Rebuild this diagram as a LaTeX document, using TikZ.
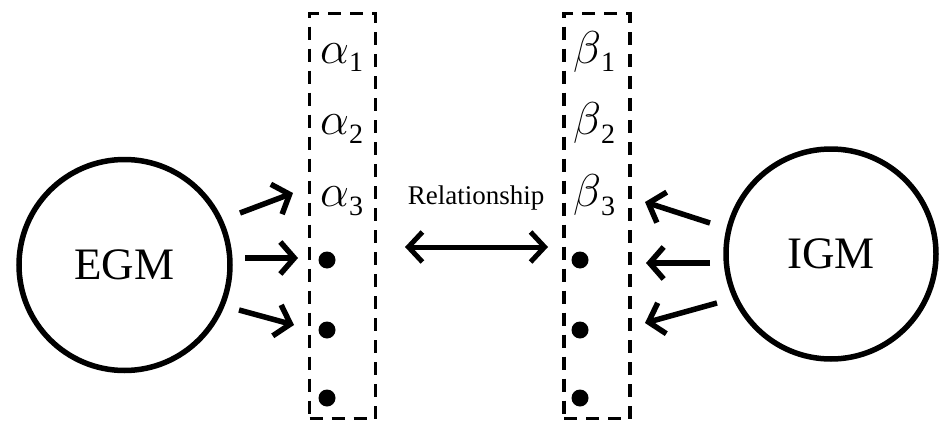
\documentclass[tikz,border=0pt]{standalone}
\usepackage{graphicx}
\usepackage{fontspec}
\setmainfont{Liberation Serif}
\usetikzlibrary{arrows.meta}
\newcommand{\lblsub}[1]{\raisebox{-9pt}{\upshape\fontsize{28}{28}\selectfont #1}}
\newcommand{\biggreek}[1]{\scalebox{1.85}{\fontsize{24}{24}\selectfont$#1$}}
\begin{document}
\begin{tikzpicture}[x=1pt,y=-1pt,
  model/.style={circle,draw,line width=5.5pt,inner sep=0pt,font=\fontsize{45}{45}\selectfont},
  dbox/.style={draw,line width=3.5pt,dash pattern=on 13pt off 9pt,inner sep=0pt},
  flow/.style={line width=5.5pt,-{Straight Barb[length=14pt,width=32pt]}},
  biflow/.style={line width=5pt,{Straight Barb[length=14pt,width=30pt]}-{Straight Barb[length=14pt,width=30pt]}},
  lbl/.style={anchor=base west,inner sep=0pt},
  dot/.style={circle,fill,inner sep=0pt,minimum size=17pt},
  reltext/.style={inner sep=0pt,font=\fontsize{27}{27}\selectfont}]
\fill[white] (0,0) rectangle (940,423);
\useasboundingbox (0,0) rectangle (940,423);

% models
\node[model,minimum size=211pt] (egm) at (124.5,265) {EGM};
\node[model,minimum size=210pt] (igm) at (831,254) {IGM};

% dashed boxes
\node[dbox,minimum width=66pt,minimum height=405pt] (boxa) at (342.5,216) {};
\node[dbox,minimum width=66pt,minimum height=405pt] (boxb) at (597,216) {};

% alpha column
\node[lbl] (a1) at (320,63) {\biggreek{\alpha}\lblsub{1}};
\node[lbl] (a2) at (320,134) {\biggreek{\alpha}\lblsub{2}};
\node[lbl] (a3) at (320,206) {\biggreek{\alpha}\lblsub{3}};
\node[dot] (ad1) at (327,260) {};
\node[dot] (ad2) at (327,330) {};
\node[dot] (ad3) at (327,398) {};

% beta column
\node[lbl] (b1) at (573,63) {\biggreek{\beta}\lblsub{1}};
\node[lbl] (b2) at (573,134) {\biggreek{\beta}\lblsub{2}};
\node[lbl] (b3) at (573,206) {\biggreek{\beta}\lblsub{3}};
\node[dot] (bd1) at (580,260) {};
\node[dot] (bd2) at (580,330) {};
\node[dot] (bd3) at (580,398) {};

% relationship
\node[reltext] (rel) at (476,198) {Relationship};
\coordinate (rl) at (405,247);
\coordinate (rr) at (548,247);
\draw[biflow] (rl) -- (rr);

% EGM arrows
\coordinate (e1s) at (240,213); \coordinate (e1e) at (293,193);
\coordinate (e2s) at (245,258); \coordinate (e2e) at (298,258);
\coordinate (e3s) at (239,310); \coordinate (e3e) at (294,325);
\draw[flow] (e1s) -- (e1e);
\draw[flow] (e2s) -- (e2e);
\draw[flow] (e3s) -- (e3e);

% IGM arrows
\coordinate (i1s) at (710,223); \coordinate (i1e) at (645,202);
\coordinate (i2s) at (710,263); \coordinate (i2e) at (646,263);
\coordinate (i3s) at (717,303); \coordinate (i3e) at (645,323);
\draw[flow] (i1s) -- (i1e);
\draw[flow] (i2s) -- (i2e);
\draw[flow] (i3s) -- (i3e);
\end{tikzpicture}
\end{document}
